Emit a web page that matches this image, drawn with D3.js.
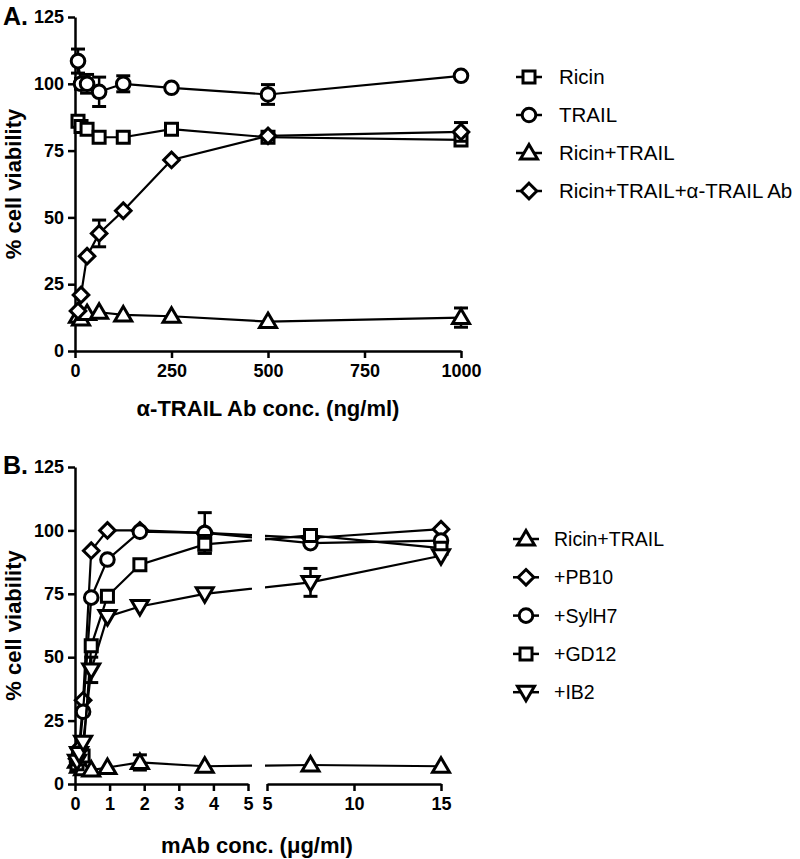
<!DOCTYPE html>
<html><head><meta charset="utf-8">
<script src="https://cdn.jsdelivr.net/npm/d3@7"></script>
<style>body{margin:0;background:#fff} svg{display:block}</style>
</head><body>
<svg id="c" width="800" height="859"></svg>
<script>
// ---------- Panel A data ----------
const concA = [7.8, 15.6, 31.25, 62.5, 125, 250, 500, 1000];
const ricinA = [86, 84, 83, 80, 80, 83, 80, 79];
const ricinAErr = [1, 1, 1, 1, 1.5, 1, 1, 1];
const trailA = [108.5, 100, 100, 97, 100, 98.5, 96, 103];
const trailAErr = [4.5, 2, 3.5, 5.5, 3, 0.5, 3.7, 0.5];
const ricinTrailA = [13, 12, 14, 14.5, 13.5, 13, 11, 12.5];
const ricinTrailAErr = [2, 1, 1, 1, 0.5, 0.5, 0.5, 3.6];
const abA = [15, 21, 35.5, 44, 52.5, 71.5, 80.5, 82];
const abAErr = [0.5, 0.5, 0.5, 5, 0.5, 0.5, 0.5, 3.5];
const ticksAx = [0, 250, 500, 750, 1000];
const ticksY = [0, 25, 50, 75, 100, 125];
const namesA = ["Ricin", "TRAIL", "Ricin+TRAIL", "Ricin+TRAIL+\u03b1-TRAIL Ab"];
const shapesA = ["square", "circle", "triangle", "diamond"];

// ---------- Panel B data ----------
const concB = [0.0586, 0.117, 0.234, 0.469, 0.9375, 1.875, 3.75, 7.5, 15];
const ricinTrailB = [9, 7, 6, 5.5, 6.5, 8.5, 7, 7.5, 7];
const ricinTrailBErr = [0.5, 0.5, 0.5, 0.5, 0.5, 3, 0.5, 0.5, 0.5];
const pb10B = [10, 14, 33, 92, 100, 100, 99, 97, 100.5];
const pb10BErr = [0.5, 0.5, 0.5, 0.5, 0.5, 0.5, 0.5, 0.5, 0.5];
const sylh7B = [9, 12, 28.5, 73.5, 88.5, 99.5, 99, 95, 96];
const sylh7BErr = [0.5, 0.5, 0.5, 0.5, 0.5, 0.5, 8, 0.5, 0.5];
const gd12B = [8, 10, 11, 54.5, 74, 86.5, 94.5, 98, 93];
const gd12BErr = [0.5, 0.5, 0.5, 0.5, 2, 0.5, 3.5, 0.5, 0.5];
const ib2B = [9, 12, 16.5, 45, 66, 70, 75, 79.5, 90];
const ib2BErr = [0.5, 0.5, 1, 5, 0.5, 0.5, 0.5, 5.5, 0.5];
const ticksBxLeft = [0, 1, 2, 3, 4, 5];
const ticksBxRight = [5, 10, 15];
const namesB = ["Ricin+TRAIL", "+PB10", "+SylH7", "+GD12", "+IB2"];
const shapesB = ["triangle", "diamond", "circle", "square", "triangleDown"];

const FONT = '"Liberation Sans", Arial, Helvetica, sans-serif';
const svg = d3.select('#c');

function markerPath(type) {
  switch (type) {
    case 'square': return 'M-6,-6H6V6H-6Z';
    case 'circle': return 'M-6.8,0A6.8,6.8 0 1,0 6.8,0A6.8,6.8 0 1,0 -6.8,0Z';
    case 'triangle': return 'M0,-8.5L8.5,6H-8.5Z';
    case 'triangleDown': return 'M0,8.5L8.5,-6H-8.5Z';
    case 'diamond': return 'M0,-7.8L7.8,0L0,7.8L-7.8,0Z';
  }
}

function styleAxis(g) {
  g.selectAll('path.domain').attr('stroke', '#000').attr('stroke-width', 2.5);
  g.selectAll('.tick line').attr('stroke', '#000').attr('stroke-width', 2.5);
  g.selectAll('.tick text').attr('fill', '#000').style('font-family', FONT)
    .style('font-weight', 'bold').style('font-size', '18px');
}

function drawSeries(g, xs, ys, errs, shape, x, y, clip) {
  const pts = xs.map((v, i) => ({x: v, y: ys[i], e: errs[i]}));
  const line = d3.line().x(d => x(d.x)).y(d => y(d.y));
  const lg = g.append('g');
  if (clip) lg.attr('clip-path', clip);
  lg.append('path').datum(pts).attr('d', line).attr('fill', 'none')
    .attr('stroke', '#000').attr('stroke-width', 2.2);
  const eb = g.append('g').selectAll('g').data(pts.filter(d => d.e > 1)).join('g');
  eb.append('line').attr('x1', d => x(d.x)).attr('x2', d => x(d.x))
    .attr('y1', d => y(d.y + d.e)).attr('y2', d => y(d.y - d.e))
    .attr('stroke', '#000').attr('stroke-width', 2.5);
  eb.append('line').attr('x1', d => x(d.x) - 7).attr('x2', d => x(d.x) + 7)
    .attr('y1', d => y(d.y + d.e)).attr('y2', d => y(d.y + d.e))
    .attr('stroke', '#000').attr('stroke-width', 3);
  eb.append('line').attr('x1', d => x(d.x) - 7).attr('x2', d => x(d.x) + 7)
    .attr('y1', d => y(d.y - d.e)).attr('y2', d => y(d.y - d.e))
    .attr('stroke', '#000').attr('stroke-width', 3);
  g.append('g').selectAll('path').data(pts).join('path')
    .attr('d', markerPath(shape))
    .attr('transform', d => `translate(${x(d.x)},${y(d.y)})`)
    .attr('fill', '#fff').attr('stroke', '#000').attr('stroke-width', 3);
}

function drawLegend(g, names, shapes, x0, y0, dy, tx, fs) {
  names.forEach((n, i) => {
    const yy = y0 + i * dy;
    g.append('line').attr('x1', x0 - 13).attr('x2', x0 + 13).attr('y1', yy).attr('y2', yy)
      .attr('stroke', '#000').attr('stroke-width', 2.5);
    g.append('path').attr('d', markerPath(shapes[i])).attr('transform', `translate(${x0},${yy})`)
      .attr('fill', '#fff').attr('stroke', '#000').attr('stroke-width', 3);
    g.append('text').attr('x', tx).attr('y', yy).attr('dy', '0.36em').text(n)
      .style('font-family', FONT).style('font-size', fs).attr('fill', '#000');
  });
}

// ---------- Panel A ----------
const xA = d3.scaleLinear().domain([0, 1000]).range([75, 461]);
const yA = d3.scaleLinear().domain([0, 125]).range([351, 17]);
const gA = svg.append('g');
gA.append('g').attr('transform', `translate(75,0)`)
  .call(d3.axisLeft(yA).tickValues(ticksY).tickSize(7).tickSizeOuter(0).tickPadding(4).tickFormat(d3.format('d')))
  .call(styleAxis);
gA.append('g').attr('transform', `translate(0,351)`)
  .call(d3.axisBottom(xA).tickValues(ticksAx).tickSize(7).tickSizeOuter(0).tickPadding(6).tickFormat(d3.format('d')))
  .call(styleAxis);

const seriesA = [[ricinA, ricinAErr], [trailA, trailAErr], [ricinTrailA, ricinTrailAErr], [abA, abAErr]];
seriesA.forEach((s, i) => drawSeries(gA, concA, s[0], s[1], shapesA[i], xA, yA));

gA.append('text').attr('x', 3).attr('y', 25).text('A.')
  .style('font-family', FONT).style('font-weight', 'bold').style('font-size', '25px');
gA.append('text').attr('transform', `translate(13,${(17 + 351) / 2}) rotate(-90)`)
  .attr('text-anchor', 'middle').attr('dy', '0.35em').text('% cell viability')
  .style('font-family', FONT).style('font-weight', 'bold').style('font-size', '22px');
gA.append('text').attr('x', xA(500)).attr('y', 416).attr('text-anchor', 'middle')
  .text('\u03b1-TRAIL Ab conc. (ng/ml)')
  .style('font-family', FONT).style('font-weight', 'bold').style('font-size', '22px');
drawLegend(gA, namesA, shapesA, 529, 77, 38, 559, '20.5px');

// ---------- Panel B ----------
const xBL = d3.scaleLinear().domain([0, 5]).range([75, 248]);
const xBR = d3.scaleLinear().domain([5, 15]).range([267, 441]);
const xB = v => (v <= 5 ? xBL(v) : xBR(v));
const yB = d3.scaleLinear().domain([0, 125]).range([784, 467]);
const gB = svg.append('g');

const defs = svg.append('defs');
const cp = defs.append('clipPath').attr('id', 'brk');
cp.append('rect').attr('x', 0).attr('y', 0).attr('width', xBL(5) + 4).attr('height', 859);
cp.append('rect').attr('x', xBR(5) - 2).attr('y', 0).attr('width', 800).attr('height', 859);

gB.append('g').attr('transform', `translate(75,0)`)
  .call(d3.axisLeft(yB).tickValues(ticksY).tickSize(7).tickSizeOuter(0).tickPadding(4).tickFormat(d3.format('d')))
  .call(styleAxis);
gB.append('g').attr('transform', `translate(0,784)`)
  .call(d3.axisBottom(xBL).tickValues(ticksBxLeft).tickSize(7).tickSizeOuter(0).tickPadding(6).tickFormat(d3.format('d')))
  .call(styleAxis);
gB.append('g').attr('transform', `translate(0,784)`)
  .call(d3.axisBottom(xBR).tickValues(ticksBxRight).tickSize(7).tickSizeOuter(0).tickPadding(6).tickFormat(d3.format('d')))
  .call(styleAxis);

const seriesB = [[ricinTrailB, ricinTrailBErr], [pb10B, pb10BErr], [sylh7B, sylh7BErr], [gd12B, gd12BErr], [ib2B, ib2BErr]];
seriesB.forEach((s, i) => drawSeries(gB, concB, s[0], s[1], shapesB[i], xB, yB, 'url(#brk)'));

gB.append('text').attr('x', 3).attr('y', 474).text('B.')
  .style('font-family', FONT).style('font-weight', 'bold').style('font-size', '25px');
gB.append('text').attr('transform', `translate(13,${(467 + 784) / 2}) rotate(-90)`)
  .attr('text-anchor', 'middle').attr('dy', '0.35em').text('% cell viability')
  .style('font-family', FONT).style('font-weight', 'bold').style('font-size', '22px');
gB.append('text').attr('x', 257).attr('y', 853).attr('text-anchor', 'middle')
  .text('mAb conc. (\u03bcg/ml)')
  .style('font-family', FONT).style('font-weight', 'bold').style('font-size', '22px');
drawLegend(gB, namesB, shapesB, 526, 539, 38.3, 554, '19.5px');
</script>
</body></html>
